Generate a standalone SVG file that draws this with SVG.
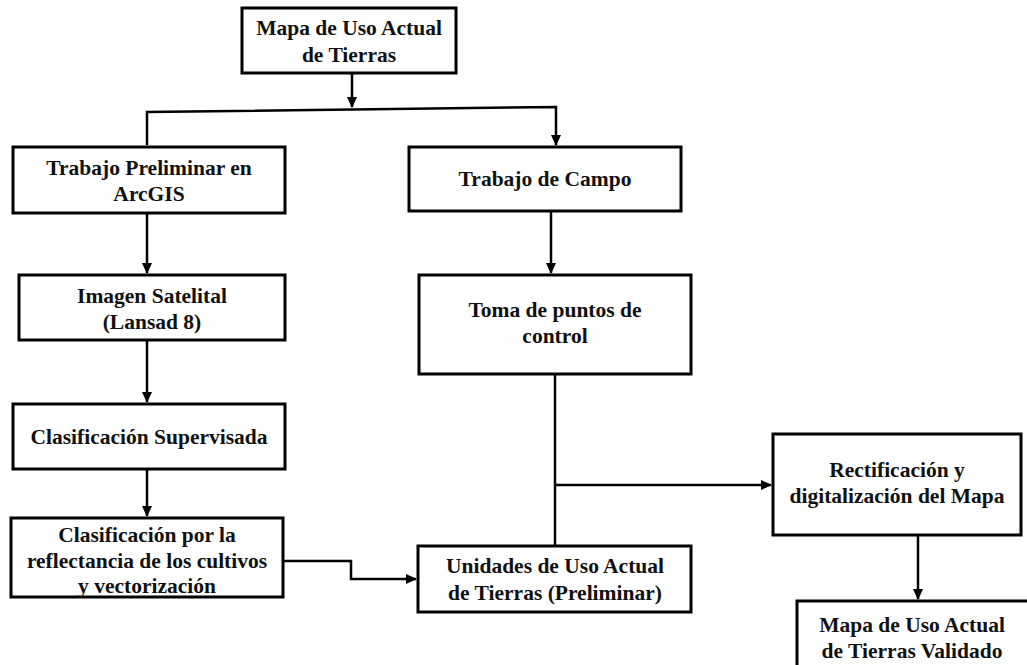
<svg xmlns="http://www.w3.org/2000/svg" width="1027" height="665" viewBox="0 0 1027 665">
<defs>
<style>
.box{fill:#fff;stroke:#000;stroke-width:3}
.t{font-family:"Liberation Serif","Times New Roman",serif;font-weight:bold;font-size:21.5px;fill:#111;text-anchor:middle}
.c{fill:none;stroke:#000;stroke-width:2.5}
</style>
<marker id="ah" markerWidth="11" markerHeight="11" refX="10" refY="5.5" orient="auto" markerUnits="userSpaceOnUse">
<path d="M0,0.5 L11,5.5 L0,10.5 Z" fill="#000"/>
</marker>
</defs>
<rect width="1027" height="665" fill="#fff"/>
<g id="connectors">
<path class="c" d="M352,73 V107" marker-end="url(#ah)"/>
<path class="c" d="M147,145 V112 L556,107 V145" marker-end="url(#ah)"/>
<path class="c" d="M147,213 V273" marker-end="url(#ah)"/>
<path class="c" d="M147,340 V402" marker-end="url(#ah)"/>
<path class="c" d="M147,469 V516" marker-end="url(#ah)"/>
<path class="c" d="M551,211 V273" marker-end="url(#ah)"/>
<path class="c" d="M555,374 V546"/>
<path class="c" d="M555,485 H771" marker-end="url(#ah)"/>
<path class="c" d="M283,561 H351 V579 H416" marker-end="url(#ah)"/>
<path class="c" d="M918,535 V599" marker-end="url(#ah)"/>
</g>
<g id="n1"><rect class="box" x="242" y="8" width="214" height="65"/>
<text class="t" x="349" y="35">Mapa de Uso Actual</text><text class="t" x="349" y="62">de Tierras</text></g>
<g id="n2"><rect class="box" x="13" y="147" width="272" height="66"/>
<text class="t" x="149" y="175">Trabajo  Preliminar en</text><text class="t" x="149" y="201">ArcGIS</text></g>
<g id="n3"><rect class="box" x="409" y="147" width="272" height="64"/>
<text class="t" x="545" y="186">Trabajo  de Campo</text></g>
<g id="n4"><rect class="box" x="19" y="275" width="266" height="65"/>
<text class="t" x="152" y="303">Imagen Satelital</text><text class="t" x="152" y="329">(Lansad 8)</text></g>
<g id="n5"><rect class="box" x="419" y="275" width="272" height="99"/>
<text class="t" x="555" y="317">Toma de puntos de</text><text class="t" x="555" y="343">control</text></g>
<g id="n6"><rect class="box" x="13" y="404" width="272" height="65"/>
<text class="t" x="149" y="444">Clasificación Supervisada</text></g>
<g id="n7"><rect class="box" x="11" y="518" width="272" height="79"/>
<text class="t" x="147" y="542">Clasificación por la</text><text class="t" x="147" y="568">reflectancia de los cultivos</text><text class="t" x="147" y="593">y vectorización</text></g>
<g id="n8"><rect class="box" x="418" y="546" width="273" height="66"/>
<text class="t" x="555" y="573">Unidades de Uso Actual</text><text class="t" x="555" y="600">de Tierras (Preliminar)</text></g>
<g id="n9"><rect class="box" x="773" y="434" width="248" height="101"/>
<text class="t" x="897" y="477">Rectificación y</text><text class="t" x="897" y="503">digitalización del Mapa</text></g>
<g id="n10"><rect class="box" x="797" y="601" width="235" height="70"/>
<text class="t" x="912" y="632">Mapa de Uso Actual</text><text class="t" x="912" y="658">de Tierras Validado</text></g>
</svg>
